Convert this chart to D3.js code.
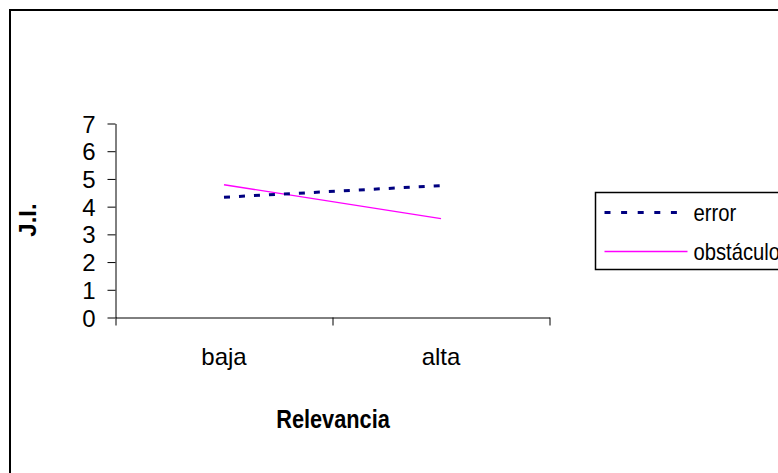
<!DOCTYPE html>
<html>
<head>
<meta charset="utf-8">
<script src="https://cdn.jsdelivr.net/npm/d3@7"></script>
<style>
  body { margin: 0; background: #fff; }
  text { font-family: "Liberation Sans", Arial, sans-serif; fill: #000; }
</style>
</head>
<body>
<script>
// chart data
var categories = ["baja", "alta"];
var errorValues = [4.34, 4.76];
var obstaculoValues = [4.79, 3.57];
var seriesNames = ["error", "obstáculo"];
var yTicks = [0, 1, 2, 3, 4, 5, 6, 7];

var width = 778,
    height = 473;

var svg = d3.select("body").append("svg")
    .attr("width", width)
    .attr("height", height)
    .style("display", "block");

// outer frame, right and bottom run past the picture
svg.append("rect")
    .attr("x", 10)
    .attr("y", 10)
    .attr("width", 800)
    .attr("height", 500)
    .style("fill", "none")
    .style("stroke", "#000")
    .style("stroke-width", 2);

var plotLeft = 115.5, plotRight = 549.5, plotTop = 123.5, plotBottom = 317.5;

var y = d3.scaleLinear()
    .domain([0, 7])
    .range([plotBottom, plotTop]);

var x = d3.scaleBand()
    .domain(categories)
    .range([plotLeft, plotRight]);

// x positions of the category boundaries for the ticks
var xTickScale = d3.scaleLinear()
    .domain([0, categories.length])
    .range([plotLeft, plotRight]);

var yAxis = svg.append("g")
    .attr("transform", "translate(" + plotLeft + ",0)")
    .call(d3.axisLeft(y).tickValues(yTicks).tickFormat(d3.format("d"))
      .tickSize(8).tickPadding(12).tickSizeOuter(0));

yAxis.selectAll("text")
    .style("font-size", "24px")
    .attr("dy", "0.36em");

var xAxis = svg.append("g")
    .attr("transform", "translate(0," + plotBottom + ")")
    .call(d3.axisBottom(xTickScale).ticks(categories.length).tickFormat("").tickSize(8).tickSizeOuter(0));

svg.selectAll(".domain, .tick line")
    .attr("stroke", "#000")
    .attr("stroke-width", 1);

svg.append("g")
    .selectAll("text")
    .data(categories)
    .enter().append("text")
    .attr("x", function(d) { return x(d) + x.bandwidth() / 2; })
    .attr("y", 365)
    .attr("text-anchor", "middle")
    .style("font-size", "24px")
    .text(function(d) { return d; });

// axis titles
svg.append("text")
    .attr("transform", "translate(333,428) scale(0.87,1)")
    .attr("text-anchor", "middle")
    .style("font-size", "25px")
    .style("font-weight", "bold")
    .text("Relevancia");

svg.append("text")
    .attr("transform", "translate(36,220) rotate(-90)")
    .attr("text-anchor", "middle")
    .style("font-size", "24px")
    .style("font-weight", "bold")
    .text("J.I.");

var line = d3.line()
    .x(function(d, i) { return x(categories[i]) + x.bandwidth() / 2; })
    .y(function(d) { return y(d); });

svg.append("path")
    .datum(obstaculoValues)
    .attr("d", line)
    .attr("fill", "none")
    .attr("stroke", "#ff00ff")
    .attr("stroke-width", 1.3);

svg.append("path")
    .datum(errorValues)
    .attr("d", line)
    .attr("fill", "none")
    .attr("stroke", "#000080")
    .attr("stroke-width", 3)
    .attr("stroke-dasharray", "6,9");

// legend
var legend = svg.append("g")
    .attr("transform", "translate(595.5,192.5)");

legend.append("rect")
    .attr("width", 300)
    .attr("height", 77)
    .style("fill", "#fff")
    .style("stroke", "#000")
    .style("stroke-width", 1.5);

var legendRows = [
  { name: seriesNames[0], color: "#000080", w: 3, dash: "6,10.6" },
  { name: seriesNames[1], color: "#ff00ff", w: 1.5, dash: null }
];

var row = legend.selectAll(".row")
    .data(legendRows)
    .enter().append("g")
    .attr("class", "row")
    .attr("transform", function(d, i) { return "translate(0," + (20 + i * 39) + ")"; });

row.append("line")
    .attr("x1", 9)
    .attr("x2", 92)
    .attr("stroke", function(d) { return d.color; })
    .attr("stroke-width", function(d) { return d.w; })
    .attr("stroke-dasharray", function(d) { return d.dash; });

row.append("text")
    .attr("transform", "translate(98,8) scale(0.88,1)")
    .style("font-size", "23px")
    .text(function(d) { return d.name; });
</script>
</body>
</html>
